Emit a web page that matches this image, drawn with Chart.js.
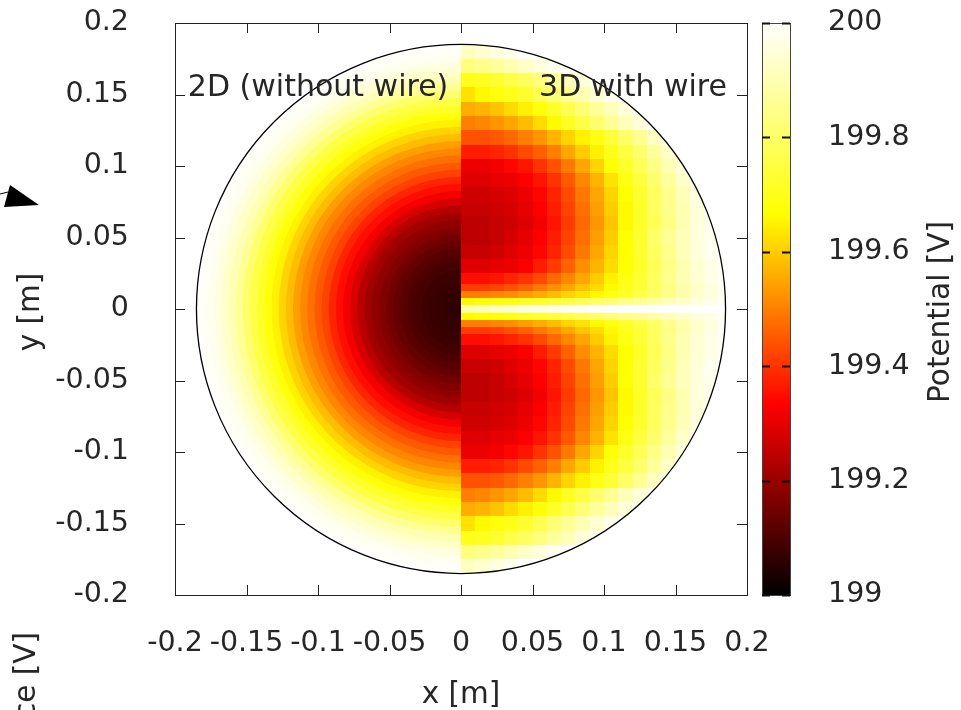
<!DOCTYPE html>
<html>
<head>
<meta charset="utf-8">
<script src="https://cdn.jsdelivr.net/npm/chart.js@4/dist/chart.umd.min.js"></script>
<style>
  body { margin: 0; background: #fff; }
  canvas { display: block; }
</style>
</head>
<body>
<canvas id="chart" width="961" height="710"></canvas>
<script>
// 2D solution (left half) - potential vs radius [m]
const radii2D = [0, 0.005, 0.01, 0.015, 0.02, 0.025, 0.03, 0.035, 0.04, 0.045,
  0.05, 0.055, 0.06, 0.065, 0.07, 0.075, 0.08, 0.085, 0.09, 0.095,
  0.1, 0.105, 0.11, 0.115, 0.12, 0.125, 0.13, 0.135, 0.14, 0.145,
  0.15, 0.155, 0.16, 0.165, 0.17, 0.175, 0.18, 0.185];
const potential2D = [199.06, 199.06, 199.065, 199.07, 199.075, 199.08, 199.09, 199.10, 199.115, 199.13,
  199.15, 199.17, 199.19, 199.21, 199.24, 199.28, 199.32, 199.35, 199.38, 199.42,
  199.45, 199.48, 199.51, 199.54, 199.58, 199.61, 199.65, 199.68, 199.72, 199.76,
  199.81, 199.86, 199.90, 199.93, 199.96, 199.98, 199.99, 200.0];

// 3D with wire (right half) - cell centres, mirrored about y = 0
const colX3D = [0.005, 0.015, 0.025, 0.035, 0.045, 0.055, 0.065, 0.075, 0.085, 0.095,
  0.105, 0.115, 0.125, 0.135, 0.145, 0.155, 0.165, 0.175, 0.185];
const rowY3D = [0, 0.005, 0.01, 0.015, 0.02, 0.03, 0.04, 0.05, 0.06, 0.07,
  0.08, 0.09, 0.1, 0.11, 0.12, 0.13, 0.14, 0.15, 0.16, 0.17, 0.18];
const potential3D = [
  [199.88, 199.90, 199.92, 199.93, 199.95, 199.96, 199.97, 199.98, 199.99, 200, 200, 200, 200, 200, 200, 200, 200, 200, 200],
  [199.66, 199.67, 199.68, 199.69, 199.71, 199.72, 199.74, 199.76, 199.78, 199.80, 199.82, 199.84, 199.86, 199.88, 199.91, 199.93, 199.95, 199.97, 199.99],
  [199.50, 199.50, 199.51, 199.52, 199.54, 199.56, 199.58, 199.61, 199.63, 199.66, 199.69, 199.72, 199.76, 199.80, 199.85, 199.89, 199.93, 199.96, 199.99],
  [199.41, 199.41, 199.42, 199.44, 199.46, 199.49, 199.52, 199.55, 199.59, 199.62, 199.66, 199.70, 199.74, 199.79, 199.84, 199.89, 199.93, 199.96, 199.99],
  [199.35, 199.35, 199.36, 199.38, 199.40, 199.43, 199.47, 199.51, 199.55, 199.60, 199.65, 199.69, 199.74, 199.79, 199.85, 199.90, 199.94, 199.97, 199.99],
  [199.29, 199.29, 199.30, 199.31, 199.33, 199.37, 199.41, 199.46, 199.52, 199.57, 199.62, 199.67, 199.72, 199.78, 199.84, 199.90, 199.94, 199.97, 199.99],
  [199.26, 199.26, 199.27, 199.29, 199.31, 199.34, 199.38, 199.43, 199.49, 199.55, 199.61, 199.67, 199.73, 199.79, 199.85, 199.91, 199.95, 199.98, 200],
  [199.25, 199.25, 199.26, 199.28, 199.30, 199.33, 199.37, 199.42, 199.48, 199.54, 199.60, 199.67, 199.73, 199.80, 199.86, 199.91, 199.95, 199.98, 200],
  [199.25, 199.25, 199.26, 199.27, 199.29, 199.32, 199.36, 199.41, 199.47, 199.53, 199.59, 199.66, 199.72, 199.78, 199.84, 199.90, 199.95, 199.98, 200],
  [199.26, 199.26, 199.27, 199.28, 199.30, 199.33, 199.37, 199.42, 199.48, 199.54, 199.60, 199.66, 199.72, 199.79, 199.85, 199.90, 199.95, 199.98, 200],
  [199.27, 199.27, 199.28, 199.29, 199.31, 199.34, 199.38, 199.43, 199.49, 199.55, 199.61, 199.67, 199.73, 199.79, 199.85, 199.91, 199.96, 199.99, 200],
  [199.29, 199.29, 199.30, 199.31, 199.33, 199.36, 199.40, 199.45, 199.51, 199.57, 199.63, 199.69, 199.75, 199.81, 199.87, 199.93, 199.97, 200, 200],
  [199.31, 199.31, 199.32, 199.34, 199.36, 199.40, 199.44, 199.49, 199.55, 199.61, 199.67, 199.72, 199.78, 199.84, 199.90, 199.95, 199.98, 200, 200],
  [199.37, 199.37, 199.38, 199.40, 199.43, 199.46, 199.50, 199.55, 199.60, 199.65, 199.70, 199.75, 199.81, 199.87, 199.93, 199.97, 200, 200, 200],
  [199.44, 199.44, 199.45, 199.47, 199.50, 199.53, 199.57, 199.61, 199.65, 199.69, 199.74, 199.80, 199.86, 199.92, 199.97, 200, 200, 200, 200],
  [199.50, 199.51, 199.53, 199.55, 199.58, 199.62, 199.66, 199.71, 199.76, 199.81, 199.86, 199.91, 199.95, 199.98, 200, 200, 200, 200, 200],
  [199.56, 199.57, 199.59, 199.62, 199.65, 199.68, 199.72, 199.77, 199.82, 199.87, 199.91, 199.95, 199.98, 200, 200, 200, 200, 200, 200],
  [199.63, 199.66, 199.68, 199.70, 199.73, 199.77, 199.82, 199.86, 199.90, 199.94, 199.97, 200, 200, 200, 200, 200, 200, 200, 200],
  [199.70, 199.71, 199.73, 199.76, 199.79, 199.83, 199.87, 199.91, 199.95, 199.98, 200, 200, 200, 200, 200, 200, 200, 200, 200],
  [199.83, 199.85, 199.87, 199.90, 199.93, 199.96, 199.98, 200, 200, 200, 200, 200, 200, 200, 200, 200, 200, 200, 200],
  [199.92, 199.94, 199.96, 199.98, 200, 200, 200, 200, 200, 200, 200, 200, 200, 200, 200, 200, 200, 200, 200]
];

const pipeRadius = 0.185;
const axisTicks = [-0.2, -0.15, -0.1, -0.05, 0, 0.05, 0.1, 0.15, 0.2];
const axisTickLabels = ['-0.2', '-0.15', '-0.1', '-0.05', '0', '0.05', '0.1', '0.15', '0.2'];
const cbTicks = [199, 199.2, 199.4, 199.6, 199.8, 200];
const cbTickLabels = ['199', '199.2', '199.4', '199.6', '199.8', '200'];
const cbMin = cbTicks[0], cbMax = cbTicks[cbTicks.length - 1];

const FONT = 'DejaVu Sans';
const INK = '#262626';

// gnuplot rgbformulae 21,22,23 (black-red-yellow-white)
function hotColor(v) {
  const t = Math.max(0, Math.min(1, (v - cbMin) / (cbMax - cbMin)));
  const c = a => Math.round(255 * Math.max(0, Math.min(1, a)));
  return `rgb(${c(3 * t)},${c(3 * t - 1)},${c(3 * t - 2)})`;
}

function vText(ctx, text, x, y, align) {
  ctx.save();
  ctx.translate(x, y);
  ctx.rotate(-Math.PI / 2);
  ctx.textAlign = align;
  ctx.textBaseline = 'alphabetic';
  ctx.fillText(text, 0, 0);
  ctx.restore();
}

// keep the tick label padding from pushing the plot area around
function fixBox(size) {
  return s => {
    if (s.isHorizontal()) s.height = size; else s.width = size;
    s.paddingTop = 0; s.paddingBottom = 0; s.paddingLeft = 0; s.paddingRight = 0;
  };
}

const heatmapPlugin = {
  id: 'heatmap',
  beforeDatasetsDraw(chart) {
    const { ctx, scales: { x, y } } = chart;
    const cx = x.getPixelForValue(0), cy = y.getPixelForValue(0);
    const rx = x.getPixelForValue(pipeRadius) - cx;
    const ry = cy - y.getPixelForValue(pipeRadius);

    ctx.save();
    ctx.beginPath();
    ctx.ellipse(cx, cy, rx, ry, 0, 0, Math.PI * 2);
    ctx.clip();

    // left half: rings from outside in
    for (let i = radii2D.length - 1; i >= 0; i--) {
      const outer = i < radii2D.length - 1 ? (radii2D[i] + radii2D[i + 1]) / 2 : radii2D[i] + 0.005;
      ctx.beginPath();
      ctx.moveTo(cx, cy);
      ctx.ellipse(cx, cy, x.getPixelForValue(outer) - cx, cy - y.getPixelForValue(outer), 0, Math.PI / 2, Math.PI * 1.5);
      ctx.closePath();
      ctx.fillStyle = hotColor(potential2D[i]);
      ctx.fill();
    }

    // right half: grid cells, mirrored top/bottom
    const half = (colX3D[1] - colX3D[0]) / 2;
    rowY3D.forEach((yc, j) => {
      const lo = j === 0 ? 0 : (rowY3D[j - 1] + yc) / 2;
      const hi = j < rowY3D.length - 1 ? (yc + rowY3D[j + 1]) / 2 : yc + 0.01;
      colX3D.forEach((xc, i) => {
        const x0 = Math.round(x.getPixelForValue(xc - half));
        const x1 = Math.round(x.getPixelForValue(xc + half));
        ctx.fillStyle = hotColor(potential3D[j][i]);
        [1, -1].forEach(s => {
          const ya = Math.round(y.getPixelForValue(s * lo));
          const yb = Math.round(y.getPixelForValue(s * hi));
          ctx.fillRect(x0, Math.min(ya, yb), x1 - x0, Math.abs(yb - ya));
        });
      });
    });
    ctx.restore();

    // pipe outline
    ctx.save();
    ctx.strokeStyle = '#000';
    ctx.lineWidth = 1.3;
    ctx.beginPath();
    ctx.ellipse(cx, cy, rx, ry, 0, 0, Math.PI * 2);
    ctx.stroke();
    ctx.restore();
  },
  afterDraw(chart) {
    const { ctx, chartArea: a, scales: { x, y, cb } } = chart;
    ctx.save();

    // frame + inward ticks
    ctx.strokeStyle = '#222';
    ctx.lineWidth = 1;
    ctx.strokeRect(a.left + 0.5, a.top + 0.5, a.right - a.left, a.bottom - a.top);
    ctx.beginPath();
    axisTicks.forEach(v => {
      const px = Math.round(x.getPixelForValue(v)) + 0.5;
      ctx.moveTo(px, a.bottom); ctx.lineTo(px, a.bottom - 10);
      ctx.moveTo(px, a.top); ctx.lineTo(px, a.top + 10);
      const py = Math.round(y.getPixelForValue(v)) + 0.5;
      ctx.moveTo(a.left, py); ctx.lineTo(a.left + 10, py);
      ctx.moveTo(a.right, py); ctx.lineTo(a.right - 10, py);
    });
    ctx.stroke();

    // colour bar
    const cbTop = cb.getPixelForValue(cbMax), cbBot = cb.getPixelForValue(cbMin);
    const cbLeft = a.right + 15, cbW = 28;
    const grad = ctx.createLinearGradient(0, cbBot, 0, cbTop);
    [0, 1 / 3, 2 / 3, 1].forEach(t => grad.addColorStop(t, hotColor(cbMin + t * (cbMax - cbMin))));
    ctx.fillStyle = grad;
    ctx.fillRect(cbLeft, cbTop, cbW, cbBot - cbTop);
    ctx.strokeStyle = '#444';
    ctx.strokeRect(cbLeft + 0.5, cbTop + 0.5, cbW, cbBot - cbTop);
    ctx.strokeStyle = '#111';
    ctx.lineWidth = 2;
    ctx.beginPath();
    cbTicks.forEach(v => {
      const py = Math.round(cb.getPixelForValue(v)) + 0.5;
      ctx.moveTo(cbLeft, py); ctx.lineTo(cbLeft + 8, py);
      ctx.moveTo(cbLeft + cbW, py); ctx.lineTo(cbLeft + cbW - 8, py);
    });
    ctx.stroke();

    // texts
    ctx.fillStyle = INK;
    ctx.font = `30px "${FONT}"`;
    ctx.textBaseline = 'alphabetic';
    ctx.textAlign = 'left';
    ctx.fillText('2D (without wire)', x.getPixelForValue(-0.191), y.getPixelForValue(0.149));
    ctx.textAlign = 'right';
    ctx.fillText('3D with wire', x.getPixelForValue(0.186), y.getPixelForValue(0.149));
    ctx.font = `29.5px "${FONT}"`;
    ctx.textAlign = 'center';
    ctx.fillText('x [m]', x.getPixelForValue(0), 703);
    vText(ctx, 'y [m]', 39, y.getPixelForValue(0) + 3, 'center');
    vText(ctx, 'Potential [V]', 949, y.getPixelForValue(0) + 3, 'center');

    // bits of the neighbouring panel
    vText(ctx, 'Potential difference [V]', 34.5, 632, 'right');
    ctx.fillStyle = '#000';
    ctx.beginPath();
    ctx.moveTo(10, 185); ctx.lineTo(39, 205); ctx.lineTo(4, 207);
    ctx.closePath();
    ctx.fill();
    ctx.strokeStyle = '#000';
    ctx.lineWidth = 1;
    ctx.beginPath();
    ctx.moveTo(0, 194); ctx.lineTo(8, 192);
    ctx.stroke();
    ctx.restore();
  }
};

const tickFont = { family: FONT, size: 28.5 };

new Chart(document.getElementById('chart'), {
  type: 'scatter',
  data: { datasets: [] },
  options: {
    responsive: false,
    animation: false,
    devicePixelRatio: 1,
    layout: { padding: { top: 23, left: 0, right: 0, bottom: 0 } },
    plugins: { legend: { display: false }, tooltip: { enabled: false } },
    scales: {
      x: {
        type: 'linear', position: 'bottom', min: -0.2, max: 0.2,
        grid: { display: false }, border: { display: false },
        afterBuildTicks: s => { s.ticks = axisTicks.map(v => ({ value: v })); },
        afterFit: fixBox(115),
        ticks: {
          autoSkip: false, maxRotation: 0, minRotation: 0, padding: 23,
          font: tickFont, color: INK,
          callback: (v, i) => axisTickLabels[i]
        }
      },
      y: {
        type: 'linear', position: 'left', min: -0.2, max: 0.2,
        grid: { display: false }, border: { display: false },
        afterBuildTicks: s => { s.ticks = axisTicks.map(v => ({ value: v })); },
        afterFit: fixBox(175),
        ticks: {
          padding: 38, font: tickFont, color: INK,
          callback: (v, i) => axisTickLabels[i]
        }
      },
      cb: {
        type: 'linear', axis: 'y', position: 'right', min: cbMin, max: cbMax,
        grid: { display: false }, border: { display: false },
        afterBuildTicks: s => { s.ticks = cbTicks.map(v => ({ value: v })); },
        afterFit: fixBox(214),
        ticks: {
          padding: 73, font: tickFont, color: INK,
          callback: (v, i) => cbTickLabels[i]
        }
      }
    }
  },
  plugins: [heatmapPlugin]
});
</script>
</body>
</html>
